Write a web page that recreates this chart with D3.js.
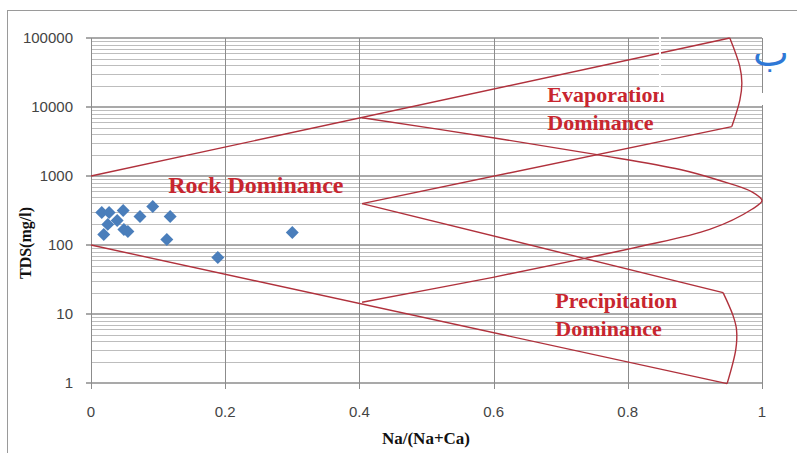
<!DOCTYPE html>
<html>
<head>
<meta charset="utf-8">
<script src="https://cdn.jsdelivr.net/npm/d3@7"></script>
<style>
	body { margin: 0; background: #fff; }
	svg { display: block; }
</style>
</head>
<body>
<script>
// Samples: Na/(Na+Ca) and TDS (mg/l)
const naRatio = [0.016, 0.027, 0.048, 0.073, 0.092, 0.118, 0.019, 0.025, 0.039, 0.049, 0.055, 0.113, 0.189, 0.300];
const tds = [296, 296, 316, 259, 361, 259, 142, 199, 227, 168, 157, 120, 66, 152];

const xTicks = [0, 0.2, 0.4, 0.6, 0.8, 1];
const xTickLabels = ['0', '0.2', '0.4', '0.6', '0.8', '1'];
const yTicks = [1, 10, 100, 1000, 10000, 100000];
const yTickLabels = ['1', '10', '100', '1000', '10000', '100000'];

// Gibbs boundary, [Na/(Na+Ca), TDS]
const upperOuter = [[0, 1000], [0.952, 100000]];
const evapCap = [[0.952, 100000], [0.967, 38500], [0.970, 22100], [0.967, 12600], [0.955, 5200]];
const evapToApex = [[0.955, 5200], [0.404, 398]];
const apexToPrecip = [[0.404, 398], [0.942, 20.4]];
const precipCap = [[0.942, 20.4], [0.957, 9.4], [0.962, 6.0], [0.961, 3.1], [0.948, 0.98]];
const lowerOuter = [[0, 100], [0.948, 0.98]];
const innerLens = [[0.404, 6980], [0.599, 3590], [0.754, 2040], [0.878, 1240], [0.937, 860], [0.985, 590], [1.0, 440],
	[0.985, 330], [0.922, 168], [0.818, 95], [0.736, 64], [0.599, 34], [0.404, 14.8]];

const zoneLabels = [
	{ lines: ['Rock Dominance'], x: 0.115, y: 570, size: 24 },
	{ lines: ['Evaporation', 'Dominance'], x: 0.680, y: 11900, size: 22 },
	{ lines: ['Precipitation', 'Dominance'], x: 0.692, y: 12.1, size: 22 }
];

const width = 797, height = 453;
const margin = { top: 38, right: 35, bottom: 70, left: 91 };

const svg = d3.select('body').append('svg')
	.attr('width', width)
	.attr('height', height);

// outer frame
svg.append('rect')
	.attr('x', 7.5).attr('y', 10.5)
	.attr('width', 820).attr('height', 480)
	.attr('fill', '#fff')
	.attr('stroke', '#9a9a9a');

const x = d3.scaleLinear().domain([0, 1]).range([margin.left, width - margin.right]);
const y = d3.scaleLog().domain([1, 100000]).range([height - margin.bottom, margin.top]);

// minor horizontal grid (2..9 in each decade)
const minor = [];
for (let d = 1; d < 100000; d *= 10) {
	for (let k = 2; k <= 9; k++) minor.push(d * k);
}
svg.append('g').selectAll('line')
	.data(minor)
	.join('line')
		.attr('x1', x(0)).attr('x2', x(1))
		.attr('y1', d => Math.round(y(d)) + 0.5)
		.attr('y2', d => Math.round(y(d)) + 0.5)
		.attr('stroke', '#bdbdbd');

// major grid
svg.append('g').selectAll('line')
	.data(yTicks)
	.join('line')
		.attr('x1', x(0) - 5).attr('x2', x(1))
		.attr('y1', d => y(d)).attr('y2', d => y(d))
		.attr('stroke', '#8c8c8c')
		.attr('stroke-width', 1.6);

svg.append('g').selectAll('line')
	.data(xTicks)
	.join('line')
		.attr('x1', d => Math.round(x(d)) + 0.5).attr('x2', d => Math.round(x(d)) + 0.5)
		.attr('y1', y(100000)).attr('y2', y(1) + 6)
		.attr('stroke', '#8c8c8c');

// tick labels
svg.append('g').selectAll('text')
	.data(yTicks)
	.join('text')
		.attr('x', x(0) - 18)
		.attr('y', d => y(d) + 5)
		.attr('text-anchor', 'end')
		.attr('font-family', 'Liberation Sans, Arial, sans-serif')
		.attr('font-size', 15)
		.attr('fill', '#444')
		.text((d, i) => yTickLabels[i]);

svg.append('g').selectAll('text')
	.data(xTicks)
	.join('text')
		.attr('x', d => x(d))
		.attr('y', y(1) + 34)
		.attr('text-anchor', 'middle')
		.attr('font-family', 'Liberation Sans, Arial, sans-serif')
		.attr('font-size', 15)
		.attr('fill', '#444')
		.text((d, i) => xTickLabels[i]);

// axis titles
svg.append('text')
	.attr('transform', `translate(31,${y(100) - 2}) rotate(-90)`)
	.attr('text-anchor', 'middle')
	.attr('font-family', 'Liberation Serif, Times New Roman, serif')
	.attr('font-weight', 'bold')
	.attr('font-size', 16)
	.attr('fill', '#111')
	.text('TDS(mg/l)');

svg.append('text')
	.attr('x', 426)
	.attr('y', 444)
	.attr('text-anchor', 'middle')
	.attr('font-family', 'Liberation Serif, Times New Roman, serif')
	.attr('font-weight', 'bold')
	.attr('font-size', 17)
	.attr('fill', '#111')
	.text('Na/(Na+Ca)');

// boundary lines
const red = '#b0313c';
const straight = d3.line().x(d => x(d[0])).y(d => y(d[1]));
const smooth = d3.line().x(d => x(d[0])).y(d => y(d[1])).curve(d3.curveCatmullRom.alpha(0.5));

const bounds = svg.append('g')
	.attr('fill', 'none')
	.attr('stroke', red)
	.attr('stroke-width', 1.4);

[upperOuter, evapToApex, apexToPrecip, lowerOuter].forEach(seg => {
	bounds.append('path').attr('d', straight(seg));
});
[evapCap, precipCap, innerLens].forEach(seg => {
	bounds.append('path').attr('d', smooth(seg));
});

// zone labels
zoneLabels.forEach(lab => {
	const t = svg.append('text')
		.attr('x', x(lab.x))
		.attr('y', y(lab.y))
		.attr('font-family', 'Liberation Serif, Times New Roman, serif')
		.attr('font-weight', 'bold')
		.attr('font-size', lab.size)
		.attr('fill', '#c8262f');
	lab.lines.forEach((l, i) => {
		t.append('tspan')
			.attr('x', x(lab.x))
			.attr('dy', i ? 28 : 0)
			.text(l);
	});
});

// samples
svg.append('g').selectAll('path')
	.data(naRatio)
	.join('path')
		.attr('d', d3.symbol(d3.symbolSquare, 84))
		.attr('transform', (d, i) => `translate(${x(d)},${y(tds[i])}) rotate(45)`)
		.attr('fill', '#4a7ebb');

// editing artifacts from the source picture
svg.append('line')
	.attr('x1', 660).attr('x2', 660)
	.attr('y1', 36).attr('y2', 100)
	.attr('stroke', '#fff')
	.attr('stroke-width', 2);
svg.append('rect')
	.attr('x', 759).attr('y', 93)
	.attr('width', 8).attr('height', 12)
	.attr('fill', '#fff');

svg.append('text')
	.attr('x', 771)
	.attr('y', 66)
	.attr('text-anchor', 'middle')
	.attr('font-family', 'DejaVu Sans, Noto Sans, sans-serif')
	.attr('font-size', 38)
	.attr('fill', '#2f78d6')
	.text('ب');
</script>
</body>
</html>
